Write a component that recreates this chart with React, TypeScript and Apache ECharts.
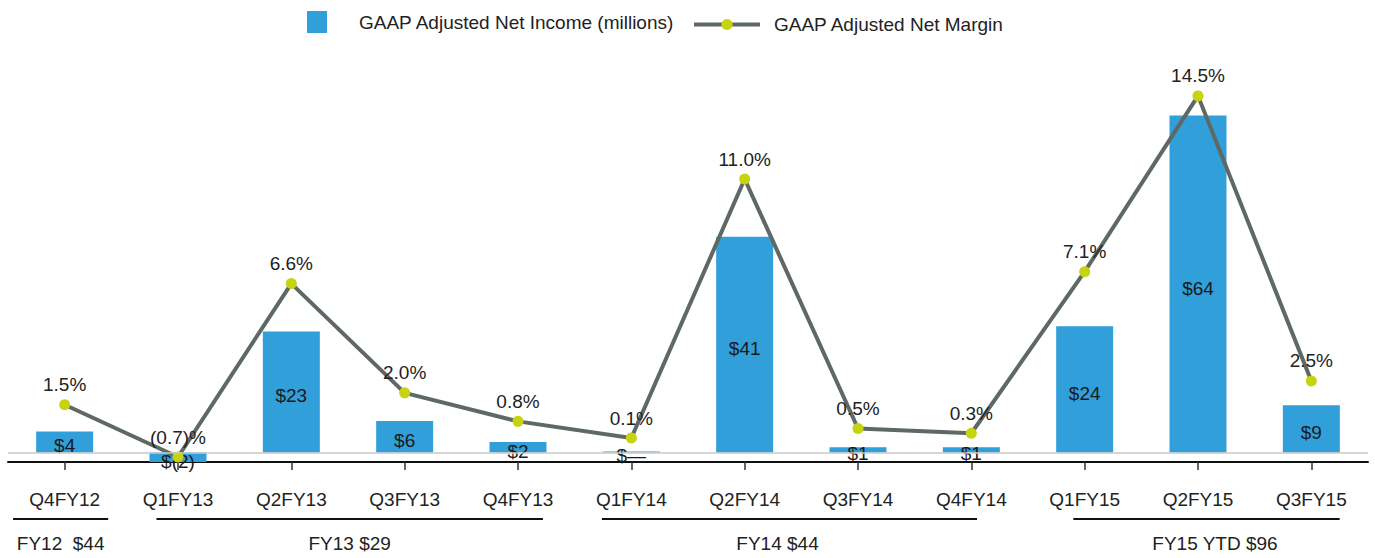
import React, { useEffect, useRef } from "react";
import * as echarts from "echarts";

const categories = ["Q4FY12", "Q1FY13", "Q2FY13", "Q3FY13", "Q4FY13", "Q1FY14", "Q2FY14", "Q3FY14", "Q4FY14", "Q1FY15", "Q2FY15", "Q3FY15"];
const netIncome = [4, -2, 23, 6, 2, 0.2, 41, 1, 1, 24, 64, 9];
const incomeLabels = ["$4", "$(2)", "$23", "$6", "$2", "$—", "$41", "$1", "$1", "$24", "$64", "$9"];
const netMargin = [1.5, -0.7, 6.6, 2.0, 0.8, 0.1, 11.0, 0.5, 0.3, 7.1, 14.5, 2.5];
const marginLabels = ["1.5%", "(0.7)%", "6.6%", "2.0%", "0.8%", "0.1%", "11.0%", "0.5%", "0.3%", "7.1%", "14.5%", "2.5%"];
const groupLabels = ["FY12  $44", "FY13 $29", "FY14 $44", "FY15 YTD $96"];
const groupFirst = [0, 1, 5, 9];
const groupLast = [0, 4, 8, 11];

// layout of the fiscal-year brackets, in fractions of a category band
const groupPadLeft = [0.455, 0.19, 0.26, 0.1];
const groupPadRight = [0.384, 0.22, 0.05, 0.25];
const groupTextShift = [0, 0, -0.105, 0.075];

const FONT = "'Liberation Sans', Arial, Helvetica, sans-serif";
const FS = 19;
const BAR_NAME = "GAAP Adjusted Net Income (millions)";
const LINE_NAME = "GAAP Adjusted Net Margin";

export default function App() {
  const ref = useRef<HTMLDivElement>(null);
  useEffect(() => {
    if (!ref.current) return;
    const chart = echarts.init(ref.current, null, { renderer: "svg" });
    const option: any = {
      animation: false,
      textStyle: { fontFamily: FONT },
      legend: [
        {
          data: [BAR_NAME],
          left: 302,
          top: 6,
          itemWidth: 20,
          itemHeight: 22,
          icon: "rect",
          textStyle: { fontSize: FS, color: "#222", fontFamily: FONT, padding: [0, 0, 0, 27] },
        },
        {
          data: [LINE_NAME],
          left: 687,
          top: 10,
          itemWidth: 66,
          itemHeight: 14,
          lineStyle: { width: 4, color: "#5e6965" },
          textStyle: { fontSize: FS, color: "#222", fontFamily: FONT, padding: [0, 0, 0, 9] },
        },
      ],
      grid: { left: 8, right: 7, top: 84, bottom: 96 },
      xAxis: {
        type: "category",
        data: categories,
        axisLine: { onZero: false, lineStyle: { color: "#111", width: 2 } },
        axisTick: { show: true, alignWithLabel: true, length: 8, lineStyle: { color: "#333", width: 1.5 } },
        axisLabel: { fontSize: FS, color: "#222", margin: 28, fontFamily: FONT },
      },
      yAxis: [
        { type: "value", min: -1.8, max: 70, show: false, splitLine: { show: false } },
        { type: "value", min: -0.91, max: 15, show: false, splitLine: { show: false } },
      ],
      series: [
        {
          name: BAR_NAME,
          type: "bar",
          data: netIncome,
          barWidth: 57,
          itemStyle: { color: "#319fd9" },
          label: {
            show: true,
            position: "inside",
            offset: [0, 4],
            fontSize: FS,
            color: "#1a1a1a",
            fontFamily: FONT,
            formatter: (p: any) => incomeLabels[p.dataIndex],
          },
          markLine: {
            silent: true,
            symbol: ["none", "none"],
            label: { show: false },
            lineStyle: { color: "#c8c8c8", width: 1.5, type: "solid" },
            data: [{ yAxis: 0 }],
          },
        },
        {
          name: LINE_NAME,
          type: "line",
          yAxisIndex: 1,
          data: netMargin,
          symbol: "circle",
          symbolSize: 11,
          lineStyle: { color: "#5e6965", width: 4 },
          itemStyle: { color: "#c6d40e" },
          label: {
            show: true,
            position: "top",
            distance: 5,
            fontSize: FS,
            color: "#222",
            fontFamily: FONT,
            formatter: (p: any) => marginLabels[p.dataIndex],
          },
        },
      ],
    };
    chart.setOption(option);

    const x0 = chart.convertToPixel({ xAxisIndex: 0 }, 0) as number;
    const x1 = chart.convertToPixel({ xAxisIndex: 0 }, 1) as number;
    const band = x1 - x0;
    const elements: any[] = [];
    groupLabels.forEach((label, i) => {
      const start = x0 + (groupFirst[i] - groupPadLeft[i]) * band;
      const end = x0 + (groupLast[i] + groupPadRight[i]) * band;
      const mid = (start + end) / 2 + groupTextShift[i] * band;
      elements.push({
        type: "line",
        silent: true,
        shape: { x1: start, y1: 519, x2: end, y2: 519 },
        style: { stroke: "#111", lineWidth: 2 },
      });
      elements.push({
        type: "text",
        silent: true,
        x: mid,
        y: 543,
        style: {
          text: label,
          fontSize: FS,
          fontFamily: FONT,
          fill: "#222",
          align: "center",
          verticalAlign: "middle",
        },
      });
    });
    chart.setOption({ graphic: elements });

    return () => chart.dispose();
  }, []);
  return (
    <div
      ref={ref}
      style={{ position: "fixed", left: 0, top: 0, width: 1375, height: 558, background: "#fff" }}
    />
  );
}
